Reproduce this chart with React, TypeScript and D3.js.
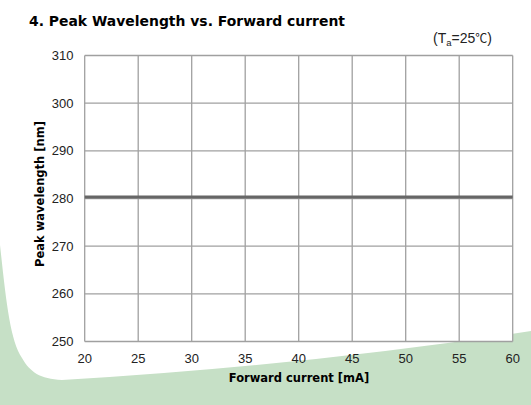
import React from "react";
import * as d3 from "d3";

const currents: number[] = [20, 25, 30, 35, 40, 45, 50, 55, 60];
const wavelengths: number[] = [280.3, 280.3, 280.3, 280.3, 280.3, 280.3, 280.3, 280.3, 280.3];
const xTicks: number[] = [20, 25, 30, 35, 40, 45, 50, 55, 60];
const yTicks: number[] = [250, 260, 270, 280, 290, 300, 310];

const W = 531;
const H = 405;
const L = 84.7;
const R = 512.7;
const T = 55.5;
const B = 341.5;

export default function App() {
  const x = d3.scaleLinear().domain([20, 60]).range([L, R]);
  const y = d3.scaleLinear().domain([250, 310]).range([B, T]);
  const line = d3
    .line<number>()
    .x((_, i) => x(currents[i]))
    .y((d) => y(d));

  const green =
    "M0,245 C6,300 10,340 22,358 C30,372 40,379 62,380 Q300,366 531,331 L531,405 L0,405 Z";

  const tickFont = "'Liberation Sans', Arial, sans-serif";
  const boldFont = "'DejaVu Sans', Verdana, sans-serif";

  return (
    <svg
      width={W}
      height={H}
      style={{ position: "absolute", left: 0, top: 0, display: "block", background: "#fff" }}
    >
      <path d={green} fill="#c6e0c6" />
      <rect x={L} y={T} width={R - L} height={B - T} fill="#fff" />
      {xTicks.map((t) => (
        <line key={"gx" + t} x1={x(t)} x2={x(t)} y1={T} y2={B} stroke="#a0a0a0" strokeWidth={1.3} />
      ))}
      {yTicks.map((t) => (
        <line key={"gy" + t} x1={L} x2={R} y1={y(t)} y2={y(t)} stroke="#a0a0a0" strokeWidth={1.3} />
      ))}
      <path d={line(wavelengths) || ""} fill="none" stroke="#666" strokeWidth={3} />
      {yTicks.map((t) => (
        <text
          key={"ly" + t}
          x={73.5}
          y={y(t) + 4.5}
          textAnchor="end"
          fontFamily={tickFont}
          fontSize={13}
          fill="#222"
        >
          {t}
        </text>
      ))}
      {xTicks.map((t) => (
        <text
          key={"lx" + t}
          x={x(t)}
          y={363}
          textAnchor="middle"
          fontFamily={tickFont}
          fontSize={13}
          fill="#222"
        >
          {t}
        </text>
      ))}
      <text x={299} y={382} textAnchor="middle" fontFamily={boldFont} fontWeight="bold" fontSize={11.5} fill="#000">
        Forward current [mA]
      </text>
      <text
        transform={`translate(44,194) rotate(-90)`}
        textAnchor="middle"
        fontFamily={boldFont}
        fontWeight="bold"
        fontSize={11.5}
        fill="#000"
      >
        Peak wavelength [nm]
      </text>
      <text x={29} y={26} fontFamily={boldFont} fontWeight="bold" fontSize={14} textLength={316} lengthAdjust="spacingAndGlyphs" fill="#000">
        4. Peak Wavelength vs. Forward current
      </text>
      <text x={433} y={43} fontFamily={tickFont} fontSize={14} fill="#222">
        (T<tspan fontSize={9.5} dy={3}>a</tspan>
        <tspan dy={-3}>=25</tspan>
        <tspan fontFamily="'Noto Sans CJK SC', sans-serif" fontSize={12}>℃</tspan>)
      </text>
    </svg>
  );
}
